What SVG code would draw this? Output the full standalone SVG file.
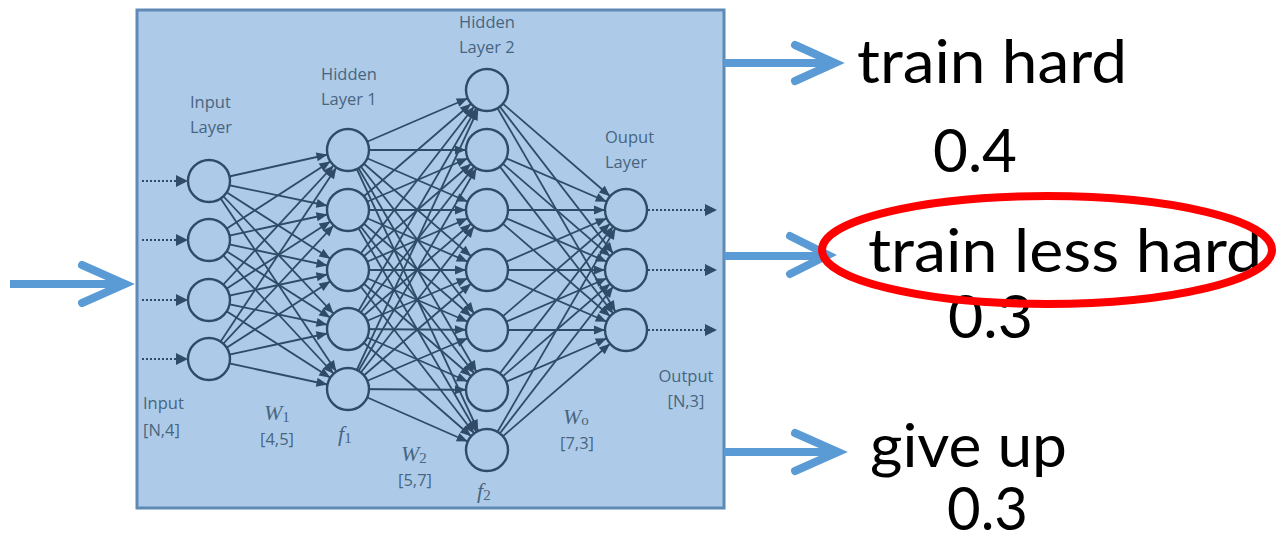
<svg xmlns="http://www.w3.org/2000/svg" width="1277" height="539" viewBox="0 0 1277 539">
<defs>
<style>
.box{fill:#adcbe9;stroke:#5f8ab5;stroke-width:3}
.node{fill:#adcbe9;stroke:#2f4b67;stroke-width:2.4}
.e{stroke:#2f4b67;stroke-width:1.8;marker-end:url(#ah)}
.dot{stroke:#2f4b67;stroke-width:2;stroke-dasharray:2 2;fill:none}
.tri{fill:#2f4b67}
.lbl{font-family:"Open Sans","Noto Sans",sans-serif;font-size:16.5px;fill:#48657f}
.math{font-family:"Liberation Serif","DejaVu Serif",serif;font-style:italic;font-size:22px;fill:#48657f}
.sub{font-style:normal;font-size:15px}
.big{font-family:Lato,"Open Sans",sans-serif;font-size:60px;fill:#000}
.ba{stroke:#5b9bd5;stroke-width:8;fill:none;stroke-linecap:round;stroke-linejoin:miter}
.bs{stroke:#5b9bd5;stroke-width:8;fill:none}
</style>
<marker id="ah" markerUnits="userSpaceOnUse" markerWidth="40" markerHeight="20" viewBox="0 -10 40 20" refX="32" refY="0" orient="auto" overflow="visible">
<path d="M0,-4.5 L11,0 L0,4.5 z" fill="#2f4b67"/>
</marker>
</defs>

<rect class="box" x="137" y="10" width="587" height="498"/>

<g id="connectors">
<line class="e" x1="209" y1="181" x2="348" y2="150"/><line class="e" x1="209" y1="181" x2="348" y2="210"/><line class="e" x1="209" y1="181" x2="348" y2="270"/><line class="e" x1="209" y1="181" x2="348" y2="329"/><line class="e" x1="209" y1="181" x2="348" y2="389"/>
<line class="e" x1="209" y1="240" x2="348" y2="150"/><line class="e" x1="209" y1="240" x2="348" y2="210"/><line class="e" x1="209" y1="240" x2="348" y2="270"/><line class="e" x1="209" y1="240" x2="348" y2="329"/><line class="e" x1="209" y1="240" x2="348" y2="389"/>
<line class="e" x1="209" y1="300" x2="348" y2="150"/><line class="e" x1="209" y1="300" x2="348" y2="210"/><line class="e" x1="209" y1="300" x2="348" y2="270"/><line class="e" x1="209" y1="300" x2="348" y2="329"/><line class="e" x1="209" y1="300" x2="348" y2="389"/>
<line class="e" x1="209" y1="359" x2="348" y2="150"/><line class="e" x1="209" y1="359" x2="348" y2="210"/><line class="e" x1="209" y1="359" x2="348" y2="270"/><line class="e" x1="209" y1="359" x2="348" y2="329"/><line class="e" x1="209" y1="359" x2="348" y2="389"/>

<line class="e" x1="348" y1="150" x2="487" y2="90"/><line class="e" x1="348" y1="150" x2="487" y2="150"/><line class="e" x1="348" y1="150" x2="487" y2="210"/><line class="e" x1="348" y1="150" x2="487" y2="270"/><line class="e" x1="348" y1="150" x2="487" y2="330"/><line class="e" x1="348" y1="150" x2="487" y2="390"/><line class="e" x1="348" y1="150" x2="487" y2="450"/>
<line class="e" x1="348" y1="210" x2="487" y2="90"/><line class="e" x1="348" y1="210" x2="487" y2="150"/><line class="e" x1="348" y1="210" x2="487" y2="210"/><line class="e" x1="348" y1="210" x2="487" y2="270"/><line class="e" x1="348" y1="210" x2="487" y2="330"/><line class="e" x1="348" y1="210" x2="487" y2="390"/><line class="e" x1="348" y1="210" x2="487" y2="450"/>
<line class="e" x1="348" y1="270" x2="487" y2="90"/><line class="e" x1="348" y1="270" x2="487" y2="150"/><line class="e" x1="348" y1="270" x2="487" y2="210"/><line class="e" x1="348" y1="270" x2="487" y2="270"/><line class="e" x1="348" y1="270" x2="487" y2="330"/><line class="e" x1="348" y1="270" x2="487" y2="390"/><line class="e" x1="348" y1="270" x2="487" y2="450"/>
<line class="e" x1="348" y1="329" x2="487" y2="90"/><line class="e" x1="348" y1="329" x2="487" y2="150"/><line class="e" x1="348" y1="329" x2="487" y2="210"/><line class="e" x1="348" y1="329" x2="487" y2="270"/><line class="e" x1="348" y1="329" x2="487" y2="330"/><line class="e" x1="348" y1="329" x2="487" y2="390"/><line class="e" x1="348" y1="329" x2="487" y2="450"/>
<line class="e" x1="348" y1="389" x2="487" y2="90"/><line class="e" x1="348" y1="389" x2="487" y2="150"/><line class="e" x1="348" y1="389" x2="487" y2="210"/><line class="e" x1="348" y1="389" x2="487" y2="270"/><line class="e" x1="348" y1="389" x2="487" y2="330"/><line class="e" x1="348" y1="389" x2="487" y2="390"/><line class="e" x1="348" y1="389" x2="487" y2="450"/>

<line class="e" x1="487" y1="90" x2="626" y2="210"/><line class="e" x1="487" y1="90" x2="626" y2="270"/><line class="e" x1="487" y1="90" x2="626" y2="330"/>
<line class="e" x1="487" y1="150" x2="626" y2="210"/><line class="e" x1="487" y1="150" x2="626" y2="270"/><line class="e" x1="487" y1="150" x2="626" y2="330"/>
<line class="e" x1="487" y1="210" x2="626" y2="210"/><line class="e" x1="487" y1="210" x2="626" y2="270"/><line class="e" x1="487" y1="210" x2="626" y2="330"/>
<line class="e" x1="487" y1="270" x2="626" y2="210"/><line class="e" x1="487" y1="270" x2="626" y2="270"/><line class="e" x1="487" y1="270" x2="626" y2="330"/>
<line class="e" x1="487" y1="330" x2="626" y2="210"/><line class="e" x1="487" y1="330" x2="626" y2="270"/><line class="e" x1="487" y1="330" x2="626" y2="330"/>
<line class="e" x1="487" y1="390" x2="626" y2="210"/><line class="e" x1="487" y1="390" x2="626" y2="270"/><line class="e" x1="487" y1="390" x2="626" y2="330"/>
<line class="e" x1="487" y1="450" x2="626" y2="210"/><line class="e" x1="487" y1="450" x2="626" y2="270"/><line class="e" x1="487" y1="450" x2="626" y2="330"/>

<path class="dot" d="M142,181 H178 M142,240 H178 M142,300 H178 M142,359 H178"/>
<path class="tri" d="M176,175 L188,181 L176,187 z M176,234 L188,240 L176,246 z M176,294 L188,300 L176,306 z M176,353 L188,359 L176,365 z"/>
<path class="dot" d="M648,210 H706 M648,270 H706 M648,330 H706"/>
<path class="tri" d="M705,204 L717,210 L705,216 z M705,264 L717,270 L705,276 z M705,324 L717,330 L705,336 z"/>
</g>

<g id="input-layer">
<circle class="node" cx="209" cy="181" r="21"/><circle class="node" cx="209" cy="240" r="21"/><circle class="node" cx="209" cy="300" r="21"/><circle class="node" cx="209" cy="359" r="21"/>
<text class="lbl" x="190" y="108">Input</text><text class="lbl" x="190" y="133">Layer</text>
<text class="lbl" x="143" y="409">Input</text><text class="lbl" x="143" y="436">[N,4]</text>
</g>
<g id="hidden-layer-1">
<circle class="node" cx="348" cy="150" r="21"/><circle class="node" cx="348" cy="210" r="21"/><circle class="node" cx="348" cy="270" r="21"/><circle class="node" cx="348" cy="329" r="21"/><circle class="node" cx="348" cy="389" r="21"/>
<text class="lbl" x="321" y="80">Hidden</text><text class="lbl" x="321" y="105">Layer 1</text>
<text class="math" x="338" y="441">f<tspan class="sub" dy="2">1</tspan></text>
</g>
<g id="hidden-layer-2">
<circle class="node" cx="487" cy="90" r="21"/><circle class="node" cx="487" cy="150" r="21"/><circle class="node" cx="487" cy="210" r="21"/><circle class="node" cx="487" cy="270" r="21"/><circle class="node" cx="487" cy="330" r="21"/><circle class="node" cx="487" cy="390" r="21"/><circle class="node" cx="487" cy="450" r="21"/>
<text class="lbl" x="459" y="28">Hidden</text><text class="lbl" x="459" y="53">Layer 2</text>
<text class="math" x="477" y="498">f<tspan class="sub" dy="2">2</tspan></text>
</g>
<g id="output-layer">
<circle class="node" cx="626" cy="210" r="21"/><circle class="node" cx="626" cy="270" r="21"/><circle class="node" cx="626" cy="330" r="21"/>
<text class="lbl" x="605" y="143">Ouput</text><text class="lbl" x="605" y="168">Layer</text>
<text class="lbl" x="686" y="382" text-anchor="middle">Output</text><text class="lbl" x="686" y="407" text-anchor="middle">[N,3]</text>
</g>
<g id="weights">
<text class="math" x="264" y="420">W<tspan class="sub" dy="2">1</tspan></text>
<text class="lbl" x="277" y="445" text-anchor="middle">[4,5]</text>
<text class="math" x="401" y="461">W<tspan class="sub" dy="2">2</tspan></text>
<text class="lbl" x="415" y="486" text-anchor="middle">[5,7]</text>
<text class="math" x="563" y="424">W<tspan class="sub" dy="1" font-style="italic">o</tspan></text>
<text class="lbl" x="577" y="449" text-anchor="middle">[7,3]</text>
</g>

<g id="input-arrow">
<path class="bs" d="M10,284 H120"/>
<path class="ba" d="M82,265 L125,284 L82,303"/>
</g>
<g id="out-train-hard">
<path class="bs" d="M724,63 H830"/>
<path class="ba" d="M795,45 L835,63 L795,81"/>
<text class="big" x="857" y="83" textLength="270" lengthAdjust="spacingAndGlyphs">train hard</text>
<text class="big" x="933" y="172" textLength="84" lengthAdjust="spacingAndGlyphs">0.4</text>
</g>
<g id="out-train-less-hard">
<path class="bs" d="M724,256 H823"/>
<path class="ba" d="M790,236 L828,255 L790,274"/>
<text class="big" x="868" y="272" textLength="394" lengthAdjust="spacingAndGlyphs">train less hard</text>
<text class="big" x="948" y="338" textLength="85" lengthAdjust="spacingAndGlyphs">0.3</text>
<ellipse cx="1047" cy="250" rx="225" ry="54" fill="none" stroke="#ff0000" stroke-width="8"/>
</g>
<g id="out-give-up">
<path class="bs" d="M724,452 H833"/>
<path class="ba" d="M795,433 L838,452 L795,471"/>
<text class="big" x="870" y="467" textLength="197" lengthAdjust="spacingAndGlyphs">give up</text>
<text class="big" x="947" y="530" textLength="81" lengthAdjust="spacingAndGlyphs">0.3</text>
</g>
</svg>
